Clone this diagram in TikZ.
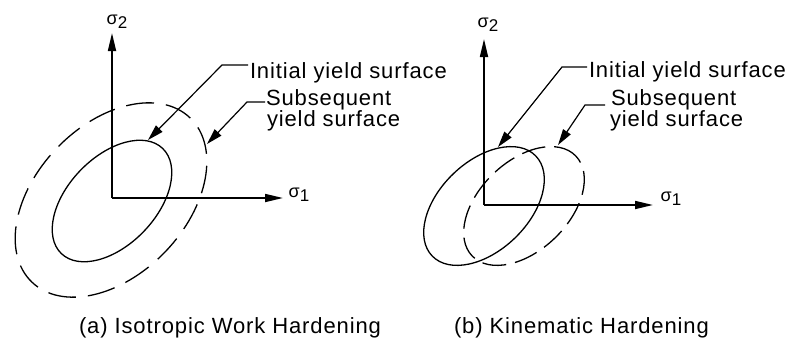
\documentclass[tikz,border=0pt]{standalone}
\usepackage{fontspec}
\setmainfont{Liberation Sans}[LetterSpace=4]
\usetikzlibrary{arrows.meta}
\tikzset{
  axisline/.style={line width=1.7pt,-{Triangle[length=18pt,width=8pt]}},
  leader/.style={line width=1.2pt,-{Triangle[length=16pt,width=9pt]}},
  curve/.style={line width=1.3pt},
  dashcurve/.style={line width=1.3pt,dash pattern=on 28pt off 12pt},
  dashcurveb/.style={line width=1.3pt,dash pattern=on 24pt off 9pt},
  lbl/.style={inner sep=0pt,outer sep=0pt,anchor=base west,font=\fontsize{22}{24}\selectfont},
  sig/.style={inner sep=0pt,outer sep=0pt}
}
\newcommand{\sigl}[1]{{\fontsize{18}{18}\selectfont σ}{\fontsize{17}{17}\selectfont\raisebox{-4pt}{#1}}}
\begin{document}
\begin{tikzpicture}[x=1pt,y=1pt]
\useasboundingbox (0,0) rectangle (789,-340);
\fill[white] (0,0) rectangle (789,-340);

% ---------- panel (a) ----------
\coordinate (Oa) at (112,-198);
\coordinate (Ya) at (112,-33);
\coordinate (Xa) at (283,-198);
\draw[axisline] (Oa) -- (Ya);
\draw[axisline] (Oa) -- (Xa);
\node[sig] (s2a) at (117,-22) {\sigl{2}};
\node[sig] (s1a) at (299,-195) {\sigl{1}};

\draw[curve, rotate around={46:(112,-201)}] (112,-201) ellipse [x radius=73, y radius=44];
\draw[dashcurve, rotate around={46:(111,-200)}] (111,-200) ellipse [x radius=114, y radius=75];

\node[lbl] (ia) at (250,-78) {Initial yield surface};
\node[lbl] (sa1) at (266,-105.5) {Subsequent};
\node[lbl] (sa2) at (267,-126.5) {yield surface};

\coordinate (ia-s) at (248,-65);
\coordinate (ia-k) at (222,-65);
\coordinate (ia-t) at (148,-140);
\draw[leader] (ia-s) -- (ia-k) -- (ia-t);
\coordinate (sa-s) at (265,-102);
\coordinate (sa-k) at (247,-102);
\coordinate (sa-t) at (207,-144);
\draw[leader] (sa-s) -- (sa-k) -- (sa-t);

\node[lbl] (ca) at (79,-333) {(a) Isotropic Work Hardening};

% ---------- panel (b) ----------
\coordinate (Ob) at (484,-205);
\coordinate (Yb) at (484,-39);
\coordinate (Xb) at (653,-205);
\draw[axisline] (Ob) -- (Yb);
\draw[axisline] (Ob) -- (Xb);
\node[sig] (s2b) at (488,-25) {\sigl{2}};
\node[sig] (s1b) at (671,-199) {\sigl{1}};

\draw[curve, rotate around={44:(484,-206)}] (484,-206) ellipse [x radius=72, y radius=44.5];
\draw[dashcurveb, rotate around={44:(524,-206)}] (524,-206) ellipse [x radius=72, y radius=44.5];

\node[lbl] (ib) at (589,-77) {Initial yield surface};
\node[lbl] (sb1) at (611,-105.5) {Subsequent};
\node[lbl] (sb2) at (610,-126.5) {yield surface};

\coordinate (ib-s) at (587,-67);
\coordinate (ib-k) at (562,-67);
\coordinate (ib-t) at (498,-147);
\draw[leader] (ib-s) -- (ib-k) -- (ib-t);
\coordinate (sb-s) at (605,-105);
\coordinate (sb-k) at (585,-105);
\coordinate (sb-t) at (558,-145);
\draw[leader] (sb-s) -- (sb-k) -- (sb-t);

\node[lbl] (cb) at (454,-333) {(b) Kinematic Hardening};
\end{tikzpicture}
\end{document}
